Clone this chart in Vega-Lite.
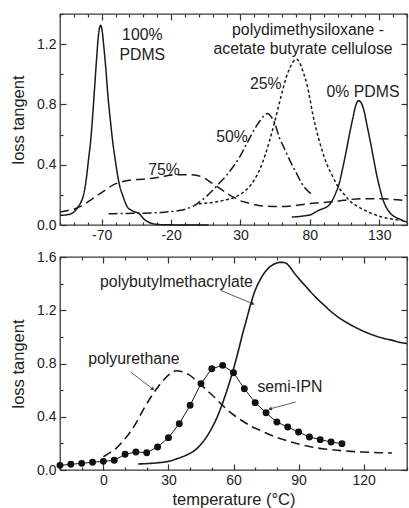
{
  "$schema": "https://vega.github.io/schema/vega-lite/v6.json",
  "padding": {"left": 9, "top": 12, "right": 0, "bottom": 0},
  "background": "white",
  "spacing": 32,
  "bounds": "flush",
  "config": {
    "font": "Liberation Sans",
    "view": {"stroke": "#3a3a3a", "strokeWidth": 1.3},
    "axis": {
      "labelFont": "Liberation Sans", "labelFontSize": 14, "labelColor": "#222",
      "titleFont": "Liberation Sans", "titleFontSize": 16.5, "titleFontWeight": "normal", "titleColor": "#222",
      "tickColor": "#333", "tickWidth": 1.2, "domain": false, "grid": false
    },
    "text": {"font": "Liberation Sans", "fontSize": 15.8, "color": "#222"}
  },
  "datasets": {
    "top": [
      {"series":"100%","t":-100,"tan":0.064},{"series":"100%","t":-95,"tan":0.068},{"series":"100%","t":-92,"tan":0.075},{"series":"100%","t":-89,"tan":0.095},{"series":"100%","t":-87,"tan":0.12},{"series":"100%","t":-85,"tan":0.15},{"series":"100%","t":-83,"tan":0.2},{"series":"100%","t":-81,"tan":0.31},{"series":"100%","t":-79.5,"tan":0.43},{"series":"100%","t":-78,"tan":0.55},{"series":"100%","t":-76.5,"tan":0.72},{"series":"100%","t":-75,"tan":0.92},{"series":"100%","t":-73.5,"tan":1.12},{"series":"100%","t":-72.5,"tan":1.24},{"series":"100%","t":-71.5,"tan":1.31},{"series":"100%","t":-70.7,"tan":1.325},{"series":"100%","t":-69.5,"tan":1.28},{"series":"100%","t":-68.5,"tan":1.19},{"series":"100%","t":-67,"tan":1.04},{"series":"100%","t":-65.5,"tan":0.86},{"series":"100%","t":-64,"tan":0.72},{"series":"100%","t":-62,"tan":0.55},{"series":"100%","t":-60,"tan":0.42},{"series":"100%","t":-58.5,"tan":0.33},{"series":"100%","t":-57,"tan":0.26},{"series":"100%","t":-55,"tan":0.2},{"series":"100%","t":-53,"tan":0.15},{"series":"100%","t":-51.5,"tan":0.12},{"series":"100%","t":-49,"tan":0.1},{"series":"100%","t":-47,"tan":0.09},{"series":"100%","t":-45,"tan":0.084},{"series":"100%","t":-43,"tan":0.075},{"series":"100%","t":-41,"tan":0.055},{"series":"100%","t":-39,"tan":0.035},{"series":"100%","t":-36,"tan":0.018},{"series":"100%","t":-33,"tan":0.008},{"series":"100%","t":-29,"tan":0.003},{"series":"100%","t":-20,"tan":0.001},{"series":"100%","t":-10,"tan":0.0},{"series":"100%","t":7,"tan":0.0},
      {"series":"0%","t":67,"tan":0.053},{"series":"0%","t":72,"tan":0.056},{"series":"0%","t":77,"tan":0.062},{"series":"0%","t":81,"tan":0.07},{"series":"0%","t":84,"tan":0.085},{"series":"0%","t":87,"tan":0.1},{"series":"0%","t":90,"tan":0.11},{"series":"0%","t":93,"tan":0.125},{"series":"0%","t":96,"tan":0.16},{"series":"0%","t":99,"tan":0.22},{"series":"0%","t":101,"tan":0.27},{"series":"0%","t":103.5,"tan":0.37},{"series":"0%","t":106,"tan":0.48},{"series":"0%","t":108.5,"tan":0.6},{"series":"0%","t":111,"tan":0.71},{"series":"0%","t":113,"tan":0.79},{"series":"0%","t":115,"tan":0.825},{"series":"0%","t":117,"tan":0.81},{"series":"0%","t":119,"tan":0.76},{"series":"0%","t":121,"tan":0.67},{"series":"0%","t":123,"tan":0.58},{"series":"0%","t":125.5,"tan":0.46},{"series":"0%","t":128,"tan":0.34},{"series":"0%","t":130.5,"tan":0.24},{"series":"0%","t":133,"tan":0.16},{"series":"0%","t":135.5,"tan":0.11},{"series":"0%","t":138,"tan":0.078},{"series":"0%","t":141,"tan":0.055},{"series":"0%","t":144,"tan":0.042},{"series":"0%","t":147,"tan":0.028},{"series":"0%","t":150,"tan":0.02},
      {"series":"25%","t":0,"tan":0.14},{"series":"25%","t":5,"tan":0.145},{"series":"25%","t":10,"tan":0.15},{"series":"25%","t":15,"tan":0.158},{"series":"25%","t":20,"tan":0.168},{"series":"25%","t":25,"tan":0.18},{"series":"25%","t":30,"tan":0.205},{"series":"25%","t":35,"tan":0.24},{"series":"25%","t":40,"tan":0.3},{"series":"25%","t":44,"tan":0.37},{"series":"25%","t":48,"tan":0.47},{"series":"25%","t":51,"tan":0.56},{"series":"25%","t":54,"tan":0.66},{"series":"25%","t":57,"tan":0.77},{"series":"25%","t":60,"tan":0.88},{"series":"25%","t":63,"tan":0.98},{"series":"25%","t":66,"tan":1.05},{"series":"25%","t":68.5,"tan":1.09},{"series":"25%","t":70.5,"tan":1.1},{"series":"25%","t":72.5,"tan":1.08},{"series":"25%","t":75,"tan":1.02},{"series":"25%","t":78,"tan":0.93},{"series":"25%","t":80,"tan":0.84},{"series":"25%","t":82,"tan":0.74},{"series":"25%","t":85,"tan":0.62},{"series":"25%","t":88,"tan":0.52},{"series":"25%","t":92,"tan":0.41},{"series":"25%","t":96,"tan":0.33},{"series":"25%","t":100,"tan":0.26},{"series":"25%","t":105,"tan":0.2},{"series":"25%","t":110,"tan":0.15},{"series":"25%","t":115,"tan":0.12},{"series":"25%","t":120,"tan":0.095},{"series":"25%","t":125,"tan":0.075},{"series":"25%","t":130,"tan":0.058},{"series":"25%","t":137,"tan":0.042},{"series":"25%","t":143,"tan":0.034},{"series":"25%","t":147,"tan":0.031},
      {"series":"50%","t":-65,"tan":0.075},{"series":"50%","t":-55,"tan":0.076},{"series":"50%","t":-45,"tan":0.078},{"series":"50%","t":-35,"tan":0.08},{"series":"50%","t":-25,"tan":0.085},{"series":"50%","t":-15,"tan":0.095},{"series":"50%","t":-8,"tan":0.11},{"series":"50%","t":-3,"tan":0.13},{"series":"50%","t":0,"tan":0.15},{"series":"50%","t":5,"tan":0.185},{"series":"50%","t":10,"tan":0.23},{"series":"50%","t":15,"tan":0.28},{"series":"50%","t":20,"tan":0.33},{"series":"50%","t":25,"tan":0.39},{"series":"50%","t":30,"tan":0.46},{"series":"50%","t":34,"tan":0.53},{"series":"50%","t":38,"tan":0.6},{"series":"50%","t":41,"tan":0.65},{"series":"50%","t":44,"tan":0.69},{"series":"50%","t":47,"tan":0.725},{"series":"50%","t":49.5,"tan":0.74},{"series":"50%","t":52,"tan":0.72},{"series":"50%","t":54,"tan":0.69},{"series":"50%","t":56,"tan":0.64},{"series":"50%","t":58,"tan":0.58},{"series":"50%","t":60,"tan":0.54},{"series":"50%","t":63,"tan":0.48},{"series":"50%","t":66,"tan":0.42},{"series":"50%","t":70,"tan":0.35},{"series":"50%","t":74,"tan":0.28},{"series":"50%","t":78,"tan":0.23},{"series":"50%","t":82,"tan":0.2},
      {"series":"75%","t":-100,"tan":0.086},{"series":"75%","t":-95,"tan":0.095},{"series":"75%","t":-90,"tan":0.105},{"series":"75%","t":-86,"tan":0.12},{"series":"75%","t":-82,"tan":0.14},{"series":"75%","t":-78,"tan":0.165},{"series":"75%","t":-74,"tan":0.19},{"series":"75%","t":-70,"tan":0.215},{"series":"75%","t":-66,"tan":0.24},{"series":"75%","t":-62,"tan":0.265},{"series":"75%","t":-58,"tan":0.28},{"series":"75%","t":-54,"tan":0.29},{"series":"75%","t":-50,"tan":0.297},{"series":"75%","t":-44,"tan":0.302},{"series":"75%","t":-36,"tan":0.307},{"series":"75%","t":-30,"tan":0.315},{"series":"75%","t":-24,"tan":0.325},{"series":"75%","t":-18,"tan":0.332},{"series":"75%","t":-12,"tan":0.334},{"series":"75%","t":-6,"tan":0.333},{"series":"75%","t":-2,"tan":0.33},{"series":"75%","t":2,"tan":0.32},{"series":"75%","t":6,"tan":0.3},{"series":"75%","t":10,"tan":0.275},{"series":"75%","t":14,"tan":0.25},{"series":"75%","t":18,"tan":0.225},{"series":"75%","t":22,"tan":0.2},{"series":"75%","t":26,"tan":0.18},{"series":"75%","t":30,"tan":0.16},{"series":"75%","t":36,"tan":0.145},{"series":"75%","t":43,"tan":0.13},{"series":"75%","t":50,"tan":0.125},{"series":"75%","t":60,"tan":0.123},{"series":"75%","t":70,"tan":0.13},{"series":"75%","t":80,"tan":0.142},{"series":"75%","t":90,"tan":0.15},{"series":"75%","t":100,"tan":0.158},{"series":"75%","t":110,"tan":0.17},{"series":"75%","t":120,"tan":0.175},{"series":"75%","t":130,"tan":0.175},{"series":"75%","t":140,"tan":0.17},{"series":"75%","t":150,"tan":0.162}
    ],
    "topLabels": [
      {"text":"100%","t":-40.7,"tan":1.259},
      {"text":"PDMS","t":-40.7,"tan":1.126},
      {"text":"polydimethysiloxane -","t":78.7,"tan":1.292},
      {"text":"acetate butyrate cellulose","t":75.1,"tan":1.17},
      {"text":"25%","t":48.2,"tan":0.938},
      {"text":"0% PDMS","t":118.3,"tan":0.883},
      {"text":"50%","t":23.9,"tan":0.584},
      {"text":"75%","t":-25.1,"tan":0.365}
    ],
    "bottom": [
      {"series":"PBMA","t":16,"tan":0.045},{"series":"PBMA","t":20,"tan":0.048},{"series":"PBMA","t":25,"tan":0.054},{"series":"PBMA","t":30,"tan":0.065},{"series":"PBMA","t":34,"tan":0.085},{"series":"PBMA","t":38,"tan":0.11},{"series":"PBMA","t":41,"tan":0.135},{"series":"PBMA","t":44,"tan":0.175},{"series":"PBMA","t":47,"tan":0.235},{"series":"PBMA","t":50,"tan":0.315},{"series":"PBMA","t":52,"tan":0.38},{"series":"PBMA","t":54,"tan":0.46},{"series":"PBMA","t":56,"tan":0.55},{"series":"PBMA","t":58,"tan":0.65},{"series":"PBMA","t":60,"tan":0.76},{"series":"PBMA","t":62,"tan":0.88},{"series":"PBMA","t":64,"tan":1.01},{"series":"PBMA","t":66,"tan":1.13},{"series":"PBMA","t":68,"tan":1.25},{"series":"PBMA","t":70,"tan":1.35},{"series":"PBMA","t":72,"tan":1.42},{"series":"PBMA","t":74,"tan":1.475},{"series":"PBMA","t":76,"tan":1.515},{"series":"PBMA","t":78,"tan":1.54},{"series":"PBMA","t":80,"tan":1.555},{"series":"PBMA","t":82,"tan":1.56},{"series":"PBMA","t":84,"tan":1.555},{"series":"PBMA","t":86,"tan":1.525},{"series":"PBMA","t":88,"tan":1.48},{"series":"PBMA","t":90,"tan":1.44},{"series":"PBMA","t":93,"tan":1.385},{"series":"PBMA","t":96,"tan":1.33},{"series":"PBMA","t":99,"tan":1.28},{"series":"PBMA","t":102,"tan":1.235},{"series":"PBMA","t":105,"tan":1.19},{"series":"PBMA","t":109,"tan":1.14},{"series":"PBMA","t":113,"tan":1.1},{"series":"PBMA","t":117,"tan":1.065},{"series":"PBMA","t":121,"tan":1.035},{"series":"PBMA","t":125,"tan":1.01},{"series":"PBMA","t":129,"tan":0.99},{"series":"PBMA","t":133,"tan":0.975},{"series":"PBMA","t":137,"tan":0.958},{"series":"PBMA","t":140,"tan":0.95},
      {"series":"PU","t":0,"tan":0.1},{"series":"PU","t":3,"tan":0.13},{"series":"PU","t":6,"tan":0.165},{"series":"PU","t":10,"tan":0.235},{"series":"PU","t":13,"tan":0.3},{"series":"PU","t":16,"tan":0.38},{"series":"PU","t":19,"tan":0.47},{"series":"PU","t":22,"tan":0.55},{"series":"PU","t":25,"tan":0.62},{"series":"PU","t":28,"tan":0.68},{"series":"PU","t":31,"tan":0.725},{"series":"PU","t":33.5,"tan":0.745},{"series":"PU","t":36,"tan":0.74},{"series":"PU","t":39,"tan":0.72},{"series":"PU","t":42,"tan":0.685},{"series":"PU","t":45,"tan":0.64},{"series":"PU","t":48,"tan":0.595},{"series":"PU","t":51,"tan":0.55},{"series":"PU","t":54,"tan":0.5},{"series":"PU","t":57,"tan":0.455},{"series":"PU","t":60,"tan":0.415},{"series":"PU","t":64,"tan":0.37},{"series":"PU","t":68,"tan":0.33},{"series":"PU","t":72,"tan":0.3},{"series":"PU","t":76,"tan":0.27},{"series":"PU","t":80,"tan":0.245},{"series":"PU","t":84,"tan":0.223},{"series":"PU","t":90,"tan":0.195},{"series":"PU","t":96,"tan":0.173},{"series":"PU","t":102,"tan":0.158},{"series":"PU","t":108,"tan":0.148},{"series":"PU","t":114,"tan":0.14},{"series":"PU","t":120,"tan":0.135},{"series":"PU","t":127,"tan":0.13},{"series":"PU","t":133,"tan":0.128}
    ],
    "ipn": [
      {"t":-20,"tan":0.035},{"t":-15,"tan":0.043},{"t":-10,"tan":0.05},{"t":-5,"tan":0.058},{"t":0,"tan":0.065},{"t":5,"tan":0.073},{"t":10,"tan":0.118},{"t":15,"tan":0.135},{"t":20,"tan":0.13},{"t":25,"tan":0.173},{"t":30,"tan":0.243},{"t":35,"tan":0.348},{"t":40,"tan":0.486},{"t":45,"tan":0.649},{"t":50,"tan":0.761},{"t":55,"tan":0.786},{"t":60,"tan":0.731},{"t":65,"tan":0.611},{"t":70,"tan":0.506},{"t":75,"tan":0.43},{"t":80,"tan":0.36},{"t":85,"tan":0.323},{"t":90,"tan":0.285},{"t":95,"tan":0.248},{"t":100,"tan":0.228},{"t":105,"tan":0.21},{"t":110,"tan":0.198}
    ],
    "bottomLabels": [
      {"text":"polybutylmethacrylate","t":33.7,"tan":1.41},
      {"text":"polyurethane","t":14.1,"tan":0.836},
      {"text":"semi-IPN","t":86,"tan":0.624}
    ],
    "arrows": [
      {"name":"pbma","t":54,"tan":1.35,"t2":68.7,"tan2":1.25},
      {"name":"pu","t":12.6,"tan":0.736,"t2":22.6,"tan2":0.61},
      {"name":"ipn","t":88.7,"tan":0.511,"t2":77.1,"tan2":0.46}
    ]
  },
  "vconcat": [
    {
      "width": 347, "height": 211,
      "resolve": {"axis": {"x": "independent", "y": "independent"}},
      "layer": [
        {
          "data": {"name": "top"},
          "mark": {"type": "line", "interpolate": "monotone", "strokeWidth": 1.5, "color": "#1a1a1a"},
          "encoding": {
            "x": {"field": "t", "type": "quantitative",
              "scale": {"domain": [-100, 150], "nice": false, "zero": false},
              "axis": {"orient": "bottom", "title": null,
                "values": [-100,-90,-80,-70,-60,-50,-40,-30,-20,-10,0,10,20,30,40,50,60,70,80,90,100,110,120,130,140,150],
                "labelExpr": "(datum.value+70)%50==0 ? ''+datum.value : ''",
                "tickSize": {"condition": {"test": "(datum.value+70)%50==0", "value": -6}, "value": -3},
                "labelPadding": 9, "labelFlush": false}},
            "y": {"field": "tan", "type": "quantitative",
              "scale": {"domain": [0, 1.4], "nice": false},
              "axis": {"orient": "left", "title": "loss tangent", "titlePadding": 10,
                "values": [0,0.2,0.4,0.6,0.8,1.0,1.2,1.4],
                "labelExpr": "round(datum.value*10)%4==0 ? format(datum.value,'.1f') : ''",
                "tickSize": {"condition": {"test": "round(datum.value*10)%4==0", "value": -6}, "value": -3},
                "labelPadding": 10}},
            "strokeDash": {"field": "series", "type": "nominal", "legend": null,
              "scale": {"domain": ["100%", "75%", "50%", "25%", "0%"],
                "range": [[1, 0], [9, 5], [9, 3, 2, 3], [3, 2.5], [1, 0]]}}
          }
        },
        {
          "data": {"name": "topLabels"},
          "mark": {"type": "text", "align": "center", "baseline": "middle"},
          "encoding": {
            "x": {"field": "t", "type": "quantitative", "axis": null},
            "y": {"field": "tan", "type": "quantitative", "axis": null},
            "text": {"field": "text"}
          }
        },
        {
          "data": {"name": "top"},
          "mark": {"type": "point", "opacity": 0},
          "encoding": {
            "x": {"field": "t", "type": "quantitative",
              "axis": {"orient": "top", "title": null, "labels": false,
                "values": [-100,-90,-80,-70,-60,-50,-40,-30,-20,-10,0,10,20,30,40,50,60,70,80,90,100,110,120,130,140,150],
                "tickSize": {"condition": {"test": "(datum.value+70)%50==0", "value": -6}, "value": -3}}},
            "y": {"field": "tan", "type": "quantitative",
              "axis": {"orient": "right", "title": null, "labels": false,
                "values": [0,0.2,0.4,0.6,0.8,1.0,1.2,1.4],
                "tickSize": {"condition": {"test": "round(datum.value*10)%4==0", "value": -6}, "value": -3}}}
          }
        }
      ]
    },
    {
      "width": 347, "height": 213,
      "resolve": {"axis": {"x": "independent", "y": "independent"}},
      "layer": [
        {
          "data": {"name": "bottom"},
          "mark": {"type": "line", "interpolate": "monotone", "strokeWidth": 1.6, "color": "#1a1a1a"},
          "encoding": {
            "x": {"field": "t", "type": "quantitative",
              "scale": {"domain": [-20, 140], "nice": false, "zero": false},
              "axis": {"orient": "bottom", "title": "temperature (°C)", "titlePadding": 4,
                "values": [-20,-10,0,10,20,30,40,50,60,70,80,90,100,110,120,130,140],
                "labelExpr": "datum.value%30==0 ? ''+datum.value : ''",
                "tickSize": {"condition": {"test": "datum.value%30==0", "value": -6}, "value": -3},
                "labelPadding": 9, "labelFlush": false}},
            "y": {"field": "tan", "type": "quantitative",
              "scale": {"domain": [0, 1.6], "nice": false},
              "axis": {"orient": "left", "title": "loss tangent", "titlePadding": 10,
                "values": [0,0.2,0.4,0.6,0.8,1.0,1.2,1.4,1.6],
                "labelExpr": "round(datum.value*10)%4==0 ? format(datum.value,'.1f') : ''",
                "tickSize": {"condition": {"test": "round(datum.value*10)%4==0", "value": -6}, "value": -3},
                "labelPadding": 10}},
            "strokeDash": {"field": "series", "type": "nominal", "legend": null,
              "scale": {"domain": ["PBMA", "PU"], "range": [[1, 0], [8, 6]]}}
          }
        },
        {
          "data": {"name": "ipn"},
          "mark": {"type": "line", "strokeWidth": 1, "color": "#1a1a1a",
            "point": {"filled": true, "size": 48, "color": "#111"}},
          "encoding": {
            "x": {"field": "t", "type": "quantitative", "axis": null},
            "y": {"field": "tan", "type": "quantitative", "axis": null}
          }
        },
        {
          "data": {"name": "bottomLabels"},
          "mark": {"type": "text", "align": "center", "baseline": "middle"},
          "encoding": {
            "x": {"field": "t", "type": "quantitative", "axis": null},
            "y": {"field": "tan", "type": "quantitative", "axis": null},
            "text": {"field": "text"}
          }
        },
        {
          "data": {"name": "arrows"},
          "mark": {"type": "rule", "strokeWidth": 0.8, "color": "#333"},
          "encoding": {
            "x": {"field": "t", "type": "quantitative", "axis": null},
            "y": {"field": "tan", "type": "quantitative", "axis": null},
            "x2": {"field": "t2"},
            "y2": {"field": "tan2"}
          }
        },
        {
          "data": {"name": "arrows"},
          "transform": [{"filter": "datum.name == 'pbma'"}],
          "mark": {"type": "point", "shape": "triangle", "filled": true, "size": 16, "color": "#333", "opacity": 1, "angle": 113},
          "encoding": {
            "x": {"field": "t2", "type": "quantitative", "axis": null},
            "y": {"field": "tan2", "type": "quantitative", "axis": null}
          }
        },
        {
          "data": {"name": "arrows"},
          "transform": [{"filter": "datum.name == 'pu'"}],
          "mark": {"type": "point", "shape": "triangle", "filled": true, "size": 16, "color": "#333", "opacity": 1, "angle": 128},
          "encoding": {
            "x": {"field": "t2", "type": "quantitative", "axis": null},
            "y": {"field": "tan2", "type": "quantitative", "axis": null}
          }
        },
        {
          "data": {"name": "arrows"},
          "transform": [{"filter": "datum.name == 'ipn'"}],
          "mark": {"type": "point", "shape": "triangle", "filled": true, "size": 16, "color": "#333", "opacity": 1, "angle": 255},
          "encoding": {
            "x": {"field": "t2", "type": "quantitative", "axis": null},
            "y": {"field": "tan2", "type": "quantitative", "axis": null}
          }
        },
        {
          "data": {"name": "bottom"},
          "mark": {"type": "point", "opacity": 0},
          "encoding": {
            "x": {"field": "t", "type": "quantitative",
              "axis": {"orient": "top", "title": null, "labels": false,
                "values": [-20,-10,0,10,20,30,40,50,60,70,80,90,100,110,120,130,140],
                "tickSize": {"condition": {"test": "datum.value%30==0", "value": -6}, "value": -3}}},
            "y": {"field": "tan", "type": "quantitative",
              "axis": {"orient": "right", "title": null, "labels": false,
                "values": [0,0.2,0.4,0.6,0.8,1.0,1.2,1.4,1.6],
                "tickSize": {"condition": {"test": "round(datum.value*10)%4==0", "value": -6}, "value": -3}}}
          }
        }
      ]
    }
  ]
}
